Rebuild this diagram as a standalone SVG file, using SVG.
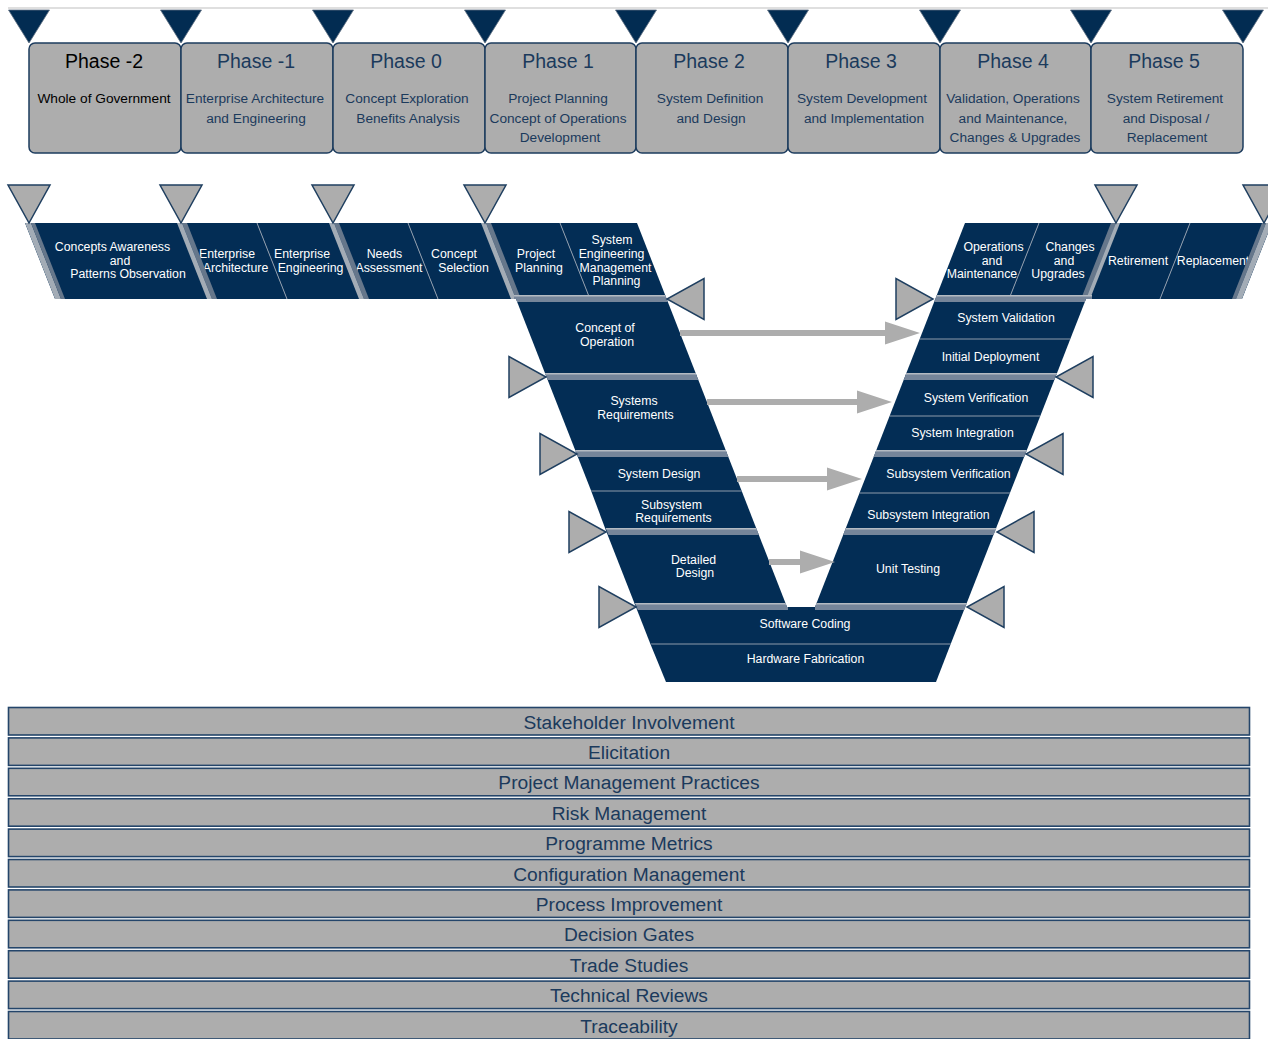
<svg xmlns="http://www.w3.org/2000/svg" width="1268" height="1039" viewBox="0 0 1268 1039">
<defs>
<style>
text{font-family:"Liberation Sans",Arial,Helvetica,sans-serif}
.pbox{fill:#adadad;stroke:#1d3c5e;stroke-width:1.5}
.tri-d{fill:#022c52;stroke:#5d6d80;stroke-width:0.8}
.tri-g{fill:#adadad;stroke:#1f3f60;stroke-width:1.5}
.seg{fill:#032d55}
.lbl{font-size:12.3px;fill:#ffffff;text-anchor:middle}
.pt{font-size:19.5px;fill:#1b3a5c;text-anchor:middle}
.ps{font-size:13.7px;fill:#1b3a5c;text-anchor:middle}
.blk{fill:#000000}
.bar{fill:#adadad;stroke:#24456a;stroke-width:1.6}
.bt{font-size:19.2px;fill:#1b3a5c;text-anchor:middle}
.thin{stroke:#8e9bab;stroke-width:1;fill:none}
.sl{fill:#a3acb6}
.sd{fill:#66778b}
.hs{fill:#75859a}
.hl{stroke:#b3bac2;stroke-width:1.6}
.arr{fill:#adadad}
</style>
<clipPath id="vclip">
<polygon points="25,223 637,223 787,607 815,607 965,223 1272,223 1242,299 1086,299 936,682 666,682 516,299 55,299"/>
</clipPath>
</defs>

<line x1="8" y1="8" x2="1268" y2="8" stroke="#d4d4d4" stroke-width="1.5"/>

<!-- Phase boxes -->
<g id="phase-m2"><rect class="pbox" x="29" y="43" width="152" height="110" rx="6"/>
<text class="pt blk" x="104" y="68">Phase -2</text>
<text class="ps blk" x="104" y="103">Whole of Government</text></g>
<g id="phase-m1"><rect class="pbox" x="181" y="43" width="152" height="110" rx="6"/>
<text class="pt" x="256" y="68">Phase -1</text>
<text class="ps" x="255" y="103">Enterprise Architecture</text>
<text class="ps" x="256" y="122.5">and Engineering</text></g>
<g id="phase-0"><rect class="pbox" x="333" y="43" width="152" height="110" rx="6"/>
<text class="pt" x="406" y="68">Phase 0</text>
<text class="ps" x="407" y="103">Concept Exploration</text>
<text class="ps" x="408" y="122.5">Benefits Analysis</text></g>
<g id="phase-1"><rect class="pbox" x="485" y="43" width="151" height="110" rx="6"/>
<text class="pt" x="558" y="68">Phase 1</text>
<text class="ps" x="558" y="103">Project Planning</text>
<text class="ps" x="558" y="122.5">Concept of Operations</text>
<text class="ps" x="560" y="142">Development</text></g>
<g id="phase-2"><rect class="pbox" x="636" y="43" width="152" height="110" rx="6"/>
<text class="pt" x="709" y="68">Phase 2</text>
<text class="ps" x="710" y="103">System Definition</text>
<text class="ps" x="711" y="122.5">and Design</text></g>
<g id="phase-3"><rect class="pbox" x="788" y="43" width="152" height="110" rx="6"/>
<text class="pt" x="861" y="68">Phase 3</text>
<text class="ps" x="862" y="103">System Development</text>
<text class="ps" x="864" y="122.5">and Implementation</text></g>
<g id="phase-4"><rect class="pbox" x="940" y="43" width="151" height="110" rx="6"/>
<text class="pt" x="1013" y="68">Phase 4</text>
<text class="ps" x="1013" y="103">Validation, Operations</text>
<text class="ps" x="1013" y="122.5">and Maintenance,</text>
<text class="ps" x="1015" y="142">Changes &amp; Upgrades</text></g>
<g id="phase-5"><rect class="pbox" x="1091" y="43" width="152" height="110" rx="6"/>
<text class="pt" x="1164" y="68">Phase 5</text>
<text class="ps" x="1165" y="103">System Retirement</text>
<text class="ps" x="1166" y="122.5">and Disposal /</text>
<text class="ps" x="1167" y="142">Replacement</text></g>

<!-- Top dark markers -->
<g id="phase-markers">
<polygon class="tri-d" points="8.5,10 49.5,10 29,43"/>
<polygon class="tri-d" points="160.5,10 201.5,10 181,43"/>
<polygon class="tri-d" points="312.5,10 353.5,10 333,43"/>
<polygon class="tri-d" points="464.5,10 505.5,10 485,43"/>
<polygon class="tri-d" points="615.5,10 656.5,10 636,43"/>
<polygon class="tri-d" points="767.5,10 808.5,10 788,43"/>
<polygon class="tri-d" points="919.5,10 960.5,10 940,43"/>
<polygon class="tri-d" points="1070.5,10 1111.5,10 1091,43"/>
<polygon class="tri-d" points="1222.5,10 1263.5,10 1243,43"/>
</g>

<!-- Left bar -->
<g id="n-concepts"><polygon class="seg" points="25,223 182,223 212,299 55,299"/>
<text class="lbl"><tspan x="112.5" y="251">Concepts Awareness</tspan><tspan x="120" y="264.5">and</tspan><tspan x="128" y="278">Patterns Observation</tspan></text></g>
<g id="n-ent-arch"><polygon class="seg" points="182,223 257,223 287,299 212,299"/>
<text class="lbl"><tspan x="227" y="257.5">Enterprise</tspan><tspan x="235.5" y="271.5">Architecture</tspan></text></g>
<g id="n-ent-eng"><polygon class="seg" points="257,223 334,223 364,299 287,299"/>
<text class="lbl"><tspan x="302" y="257.5">Enterprise</tspan><tspan x="310.5" y="271.5">Engineering</tspan></text></g>
<g id="n-needs"><polygon class="seg" points="334,223 408,223 438,299 364,299"/>
<text class="lbl"><tspan x="384.5" y="257.5">Needs</tspan><tspan x="389" y="271.5">Assessment</tspan></text></g>
<g id="n-concept-sel"><polygon class="seg" points="408,223 486,223 516,299 438,299"/>
<text class="lbl"><tspan x="454" y="257.5">Concept</tspan><tspan x="463.5" y="271.5">Selection</tspan></text></g>
<g id="n-proj-plan"><polygon class="seg" points="486,223 560,223 590,299 516,299"/>
<text class="lbl"><tspan x="536" y="257.5">Project</tspan><tspan x="539" y="271.5">Planning</tspan></text></g>
<g id="n-semp"><polygon class="seg" points="560,223 637,223 666.7,299 590,299"/>
<text class="lbl"><tspan x="612" y="244">System</tspan><tspan x="611.5" y="258">Engineering</tspan><tspan x="615.5" y="271.5">Management</tspan><tspan x="616.5" y="285">Planning</tspan></text></g>

<!-- Left arm -->
<g id="n-conops"><polygon class="seg" points="516,299 666.7,299 697.2,377 546.5,377"/>
<text class="lbl"><tspan x="605" y="332">Concept of</tspan><tspan x="607" y="345.5">Operation</tspan></text></g>
<g id="n-sysreq"><polygon class="seg" points="546.5,377 697.2,377 727.2,454 576.7,454"/>
<text class="lbl"><tspan x="634" y="405">Systems</tspan><tspan x="635.5" y="418.5">Requirements</tspan></text></g>
<g id="n-sysdes"><polygon class="seg" points="576.7,454 727.2,454 741.7,491 591.2,491"/>
<text class="lbl" x="659" y="478">System Design</text></g>
<g id="n-subreq"><polygon class="seg" points="591.2,491 741.7,491 757.7,532 606.5,532"/>
<text class="lbl"><tspan x="671.5" y="508.5">Subsystem</tspan><tspan x="673.5" y="522">Requirements</tspan></text></g>
<g id="n-detdes"><polygon class="seg" points="606.5,532 757.7,532 787,607 635.9,607"/>
<text class="lbl"><tspan x="693.5" y="563.5">Detailed</tspan><tspan x="695" y="577">Design</tspan></text></g>

<!-- Bottom -->
<g id="n-swcode"><polygon class="seg" points="635.9,607 965.2,607 950.7,644 650.4,644"/>
<text class="lbl" x="805" y="628">Software Coding</text></g>
<g id="n-hwfab"><polygon class="seg" points="650.4,644 950.7,644 936,682 666,682"/>
<text class="lbl" x="805.5" y="663">Hardware Fabrication</text></g>

<!-- Right arm -->
<g id="n-sysval"><polygon class="seg" points="935.3,299 1086,299 1070.3,339 919.7,339"/>
<text class="lbl" x="1006" y="322">System Validation</text></g>
<g id="n-initdep"><polygon class="seg" points="919.7,339 1070.3,339 1055.5,377 904.8,377"/>
<text class="lbl" x="990.5" y="361">Initial Deployment</text></g>
<g id="n-sysver"><polygon class="seg" points="904.8,377 1055.5,377 1040.3,416 889.6,416"/>
<text class="lbl" x="976" y="402">System Verification</text></g>
<g id="n-sysint"><polygon class="seg" points="889.6,416 1040.3,416 1025.3,454 874.8,454"/>
<text class="lbl" x="962.5" y="437">System Integration</text></g>
<g id="n-subver"><polygon class="seg" points="874.8,454 1025.3,454 1009.9,493 859.5,493"/>
<text class="lbl" x="948.5" y="478">Subsystem Verification</text></g>
<g id="n-subint"><polygon class="seg" points="859.5,493 1009.9,493 994.6,532 844.3,532"/>
<text class="lbl" x="928.5" y="519">Subsystem Integration</text></g>
<g id="n-unit"><polygon class="seg" points="844.3,532 994.6,532 965.2,607 815,607"/>
<text class="lbl" x="908" y="573">Unit Testing</text></g>

<!-- Right bar -->
<g id="n-ops"><polygon class="seg" points="965,223 1039,223 1009,299 935.3,299"/>
<text class="lbl"><tspan x="993.5" y="251">Operations</tspan><tspan x="992" y="264.5">and</tspan><tspan x="982" y="278">Maintenance</tspan></text></g>
<g id="n-changes"><polygon class="seg" points="1039,223 1116,223 1086,299 1009,299"/>
<text class="lbl"><tspan x="1070" y="251">Changes</tspan><tspan x="1064" y="264.5">and</tspan><tspan x="1058" y="278">Upgrades</tspan></text></g>
<g id="n-retire"><polygon class="seg" points="1116,223 1190,223 1160,299 1086,299"/>
<text class="lbl" x="1138" y="264.5">Retirement</text></g>
<g id="n-replace"><polygon class="seg" points="1190,223 1272,223 1242,299 1160,299"/>
<text class="lbl" x="1213" y="264.5">Replacement</text></g>

<!-- Separators -->
<g id="separators" clip-path="url(#vclip)">
<line class="thin" x1="257" y1="223" x2="287" y2="299"/>
<line class="thin" x1="408" y1="223" x2="438" y2="299"/>
<line class="thin" x1="560" y1="223" x2="590" y2="299"/>
<line class="thin" x1="1039" y1="223" x2="1009" y2="299"/>
<line class="thin" x1="1190" y1="223" x2="1160" y2="299"/>
<line class="thin" x1="591.2" y1="491" x2="741.7" y2="491"/>
<line class="thin" x1="919.7" y1="339" x2="1070.3" y2="339"/>
<line class="thin" x1="889.6" y1="416" x2="1040.3" y2="416"/>
<line class="thin" x1="859.5" y1="493" x2="1009.9" y2="493"/>
<line class="thin" x1="650.4" y1="644" x2="950.7" y2="644"/>

<polygon class="sl" points="25,223 31,223 61,299 55,299"/>
<polygon class="sd" points="31,223 35,223 65,299 61,299"/>
<polygon class="sl" points="177,223 182,223 212,299 207,299"/>
<polygon class="sd" points="182,223 187,223 217,299 212,299"/>
<polygon class="sl" points="329,223 334,223 364,299 359,299"/>
<polygon class="sd" points="334,223 339,223 369,299 364,299"/>
<polygon class="sl" points="481,223 486,223 516,299 511,299"/>
<polygon class="sd" points="486,223 491,223 521,299 516,299"/>
<polygon class="sd" points="1111,223 1116,223 1086,299 1081,299"/>
<polygon class="sl" points="1116,223 1120,223 1090,299 1086,299"/>
<polygon class="sd" points="1262,223 1266,223 1236,299 1232,299"/>
<polygon class="sl" points="1266,223 1272,223 1242,299 1236,299"/>

<rect class="hs" x="514" y="295" width="160" height="7"/>
<rect class="hs" x="540" y="373" width="162" height="7"/>
<rect class="hs" x="570" y="450" width="162" height="7"/>
<rect class="hs" x="600" y="528" width="162" height="7"/>
<rect class="hs" x="628" y="603" width="160" height="7"/>
<rect class="hs" x="928" y="295" width="164" height="7"/>
<rect class="hs" x="898" y="373" width="164" height="7"/>
<rect class="hs" x="868" y="450" width="164" height="7"/>
<rect class="hs" x="838" y="528" width="162" height="7"/>
<rect class="hs" x="815" y="603" width="158" height="7"/>
<line class="hl" x1="514" y1="295.8" x2="674" y2="295.8"/>
<line class="hl" x1="540" y1="373.8" x2="702" y2="373.8"/>
<line class="hl" x1="570" y1="450.8" x2="732" y2="450.8"/>
<line class="hl" x1="600" y1="528.8" x2="762" y2="528.8"/>
<line class="hl" x1="628" y1="603.8" x2="788" y2="603.8"/>
<line class="hl" x1="928" y1="295.8" x2="1092" y2="295.8"/>
<line class="hl" x1="898" y1="373.8" x2="1062" y2="373.8"/>
<line class="hl" x1="868" y1="450.8" x2="1032" y2="450.8"/>
<line class="hl" x1="838" y1="528.8" x2="1000" y2="528.8"/>
<line class="hl" x1="815" y1="603.8" x2="973" y2="603.8"/>
</g>

<!-- Gray gate markers -->
<g id="gates">
<polygon class="tri-g" points="8,185 50,185 29,223"/>
<polygon class="tri-g" points="160,185 202,185 181,223"/>
<polygon class="tri-g" points="312,185 354,185 333,223"/>
<polygon class="tri-g" points="464,185 506,185 485,223"/>
<polygon class="tri-g" points="1095,185 1137,185 1116,223"/>
<polygon class="tri-g" points="1243,185 1285,185 1264,223"/>
<polygon class="tri-g" points="704,278.5 704,319.5 667,299"/>
<polygon class="tri-g" points="509,356.5 509,397.5 546,377"/>
<polygon class="tri-g" points="540,433.5 540,474.5 577,454"/>
<polygon class="tri-g" points="569,511.5 569,552.5 606,532"/>
<polygon class="tri-g" points="599,586.5 599,627.5 636,607"/>
<polygon class="tri-g" points="896,278.5 896,319.5 933,299"/>
<polygon class="tri-g" points="1093,356.5 1093,397.5 1056,377"/>
<polygon class="tri-g" points="1063,433.5 1063,474.5 1026,454"/>
<polygon class="tri-g" points="1034,511.5 1034,552.5 997,532"/>
<polygon class="tri-g" points="1004,586.5 1004,627.5 967,607"/>
</g>

<!-- Connectors -->
<g id="connectors">
<polygon class="arr" points="680,330 885,330 885,321.5 920,333 885,344.5 885,336 680,336"/>
<polygon class="arr" points="707,399 857,399 857,390.5 892,402 857,413.5 857,405 707,405"/>
<polygon class="arr" points="737,476 827,476 827,467.5 862,479 827,490.5 827,482 737,482"/>
<polygon class="arr" points="769,559 800,559 800,550.5 835,562 800,573.5 800,565 769,565"/>
</g>

<!-- Cross-cutting bars -->
<g id="bar-stakeholder"><rect class="bar" x="8.5" y="707.5" width="1241" height="27.5"/><text class="bt" x="629" y="728.5">Stakeholder Involvement</text></g>
<g id="bar-elicitation"><rect class="bar" x="8.5" y="737.9" width="1241" height="27.5"/><text class="bt" x="629" y="758.9">Elicitation</text></g>
<g id="bar-pm"><rect class="bar" x="8.5" y="768.3" width="1241" height="27.5"/><text class="bt" x="629" y="789.3">Project Management Practices</text></g>
<g id="bar-risk"><rect class="bar" x="8.5" y="798.7" width="1241" height="27.5"/><text class="bt" x="629" y="819.7">Risk Management</text></g>
<g id="bar-metrics"><rect class="bar" x="8.5" y="829.1" width="1241" height="27.5"/><text class="bt" x="629" y="850.1">Programme Metrics</text></g>
<g id="bar-config"><rect class="bar" x="8.5" y="859.5" width="1241" height="27.5"/><text class="bt" x="629" y="880.5">Configuration Management</text></g>
<g id="bar-process"><rect class="bar" x="8.5" y="889.9" width="1241" height="27.5"/><text class="bt" x="629" y="910.9">Process Improvement</text></g>
<g id="bar-gates"><rect class="bar" x="8.5" y="920.3" width="1241" height="27.5"/><text class="bt" x="629" y="941.3">Decision Gates</text></g>
<g id="bar-trade"><rect class="bar" x="8.5" y="950.7" width="1241" height="27.5"/><text class="bt" x="629" y="971.7">Trade Studies</text></g>
<g id="bar-reviews"><rect class="bar" x="8.5" y="981.1" width="1241" height="27.5"/><text class="bt" x="629" y="1002.1">Technical Reviews</text></g>
<g id="bar-trace"><rect class="bar" x="8.5" y="1011.5" width="1241" height="27.5"/><text class="bt" x="629" y="1032.5">Traceability</text></g>
</svg>
